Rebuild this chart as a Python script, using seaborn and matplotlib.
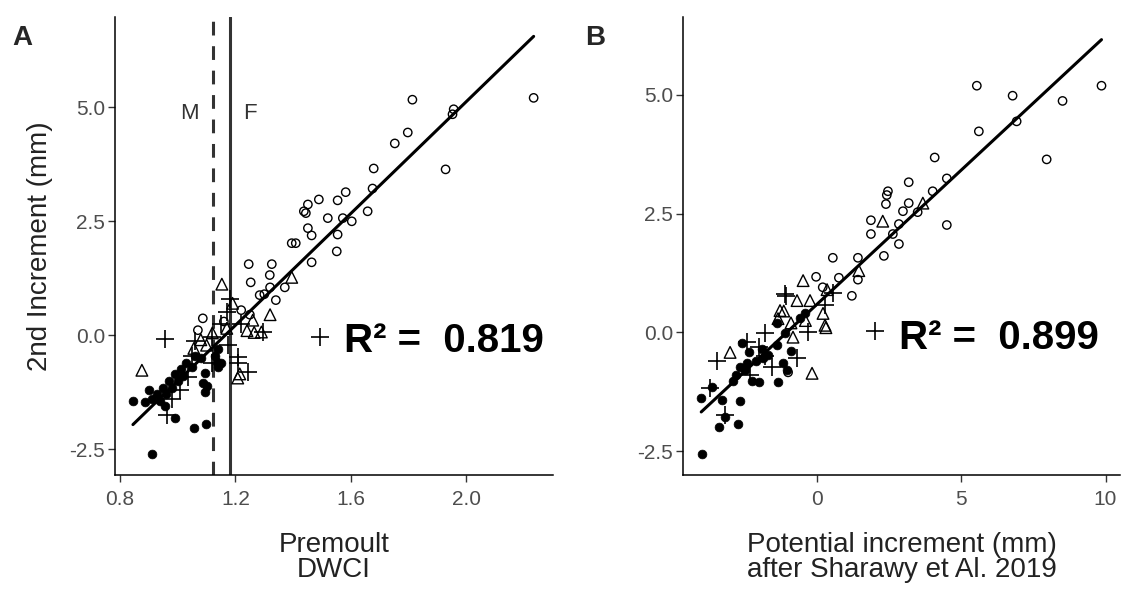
import numpy as np
import pandas as pd
import matplotlib
matplotlib.use("Agg")
import matplotlib.pyplot as plt
import seaborn as sns

# ---------------- data ----------------
# Panel A : Premoult DWCI vs 2nd increment
A_fill_x = [0.911, 0.845, 0.900, 0.887, 0.990, 1.056, 1.098, 1.094, 1.087, 1.136, 1.140,
            0.93, 0.94, 0.95, 0.96, 0.97, 0.98, 0.99, 1.00, 1.01, 1.02, 1.03, 1.05, 1.06,
            0.955, 1.08, 1.13, 1.15, 1.14, 1.103, 1.094, 0.912]
A_fill_y = [-2.61, -1.45, -1.21, -1.47, -1.82, -2.04, -1.95, -0.83, -1.05, -0.59, -0.70,
            -1.30, -1.45, -1.15, -1.30, -1.00, -1.15, -0.85, -1.00, -0.75, -0.90, -0.60, -0.70, -0.45,
            -1.55, -0.50, -0.45, -0.60, -0.30, -1.12, -1.25, -1.40]
A_open_x = [1.813, 2.233, 1.956, 1.952, 1.797, 1.752, 1.928, 1.679, 1.675, 1.582, 1.554, 1.489,
            1.451, 1.437, 1.444, 1.658, 1.520, 1.572, 1.603, 1.451, 1.464, 1.554, 1.395, 1.409,
            1.551, 1.246, 1.326, 1.464, 1.319, 1.253, 1.371, 1.340, 1.284, 1.087, 1.070,
            1.16, 1.22, 1.25, 1.30, 1.32]
A_open_y = [5.17, 5.21, 4.96, 4.85, 4.45, 4.21, 3.64, 3.66, 3.22, 3.14, 2.96, 2.98,
            2.87, 2.72, 2.68, 2.72, 2.57, 2.57, 2.50, 2.35, 2.19, 2.21, 2.02, 2.02,
            1.84, 1.56, 1.56, 1.60, 1.32, 1.16, 1.05, 0.77, 0.88, 0.37, 0.11,
            0.30, 0.55, 0.45, 0.90, 1.05]
A_tri_x = [0.876, 1.153, 1.208, 1.056, 1.100, 1.395, 1.290, 1.260, 1.190, 1.240, 1.265,
           1.170, 1.120, 1.215, 1.080, 1.320]
A_tri_y = [-0.77, 1.12, -0.94, -0.29, -0.22, 1.27, 0.07, 0.33, 0.70, 0.10, 0.06,
           0.15, 0.05, -0.85, -0.10, 0.45]
A_plus_x = [0.956, 1.035, 1.008, 0.980, 0.963, 1.243, 1.208, 1.174, 1.295, 1.492, 1.180,
            1.170, 1.210, 1.120, 1.060, 1.150, 1.220, 1.050, 1.120]
A_plus_y = [-0.09, -0.92, -1.21, -1.40, -1.75, -0.81, -0.61, -0.22, 0.07, -0.04, 0.79,
            0.50, -0.48, -0.05, -0.12, 0.25, 0.25, -0.45, -0.60]

# Panel B : potential increment vs 2nd increment
B_fill_x = [-3.98, -3.39, -2.73, -2.66, -3.29, -3.18, -4.01, -3.63, -2.91, -2.25, -2.00,
            -1.35, -2.60, -2.35, -2.66, -2.50, -2.42, -1.87, -1.70, -1.38, -1.18, -1.04,
            -1.11, -0.59, -1.40, -2.10, -2.80, -1.90, -0.90, -0.40]
B_fill_y = [-2.55, -1.99, -1.92, -1.44, -1.42, -1.78, -1.38, -1.15, -1.03, -1.03, -1.05,
            -1.05, -0.23, -0.42, -0.73, -0.80, -0.65, -0.54, -0.48, -0.27, -0.65, -0.79,
            -0.02, 0.31, 0.20, -0.60, -0.90, -0.35, -0.40, 0.40]
B_open_x = [5.54, 6.78, 8.51, 6.92, 5.61, 7.96, 4.08, 4.50, 3.18, 2.46, 2.42, 4.01, 2.39,
            3.18, 2.98, 3.49, 1.87, 2.84, 4.50, 1.87, 2.63, 2.84, 2.32, 0.55, 1.42, 1.42,
            -0.03, 0.76, 1.21, 9.86, -1.00, 0.20]
B_open_y = [5.19, 4.98, 4.87, 4.44, 4.23, 3.64, 3.68, 3.24, 3.16, 2.97, 2.89, 2.97, 2.70,
            2.72, 2.55, 2.53, 2.36, 2.28, 2.26, 2.07, 2.07, 1.86, 1.61, 1.57, 1.57, 1.11,
            1.17, 1.15, 0.77, 5.19, -0.84, 0.95]
B_tri_x = [-0.48, 0.35, -0.69, -0.24, 0.21, 0.31, -1.28, -1.35, -0.83, -3.01, -0.17,
           0.28, -0.40, -0.90, 1.45, 2.28, 3.67, -1.15]
B_tri_y = [1.09, 0.90, 0.67, 0.67, 0.40, 0.10, 0.46, 0.29, -0.10, -0.42, -0.86,
           0.15, 0.25, 0.20, 1.30, 2.34, 2.72, 0.45]
B_plus_x = [-3.46, 2.00, -1.80, -1.07, -0.69, -1.56, -2.32, -3.70, -3.18, -2.42, 0.55,
            0.28, -1.10, -1.80, -0.30, -2.00]
B_plus_y = [-0.61, 0.02, -0.02, 0.77, -0.54, -0.73, -0.90, -1.17, -1.74, -0.21, 0.82,
            0.57, 0.80, -0.50, 0.00, -0.30]

r2_labels = ["0.819", "0.899"]
male_dwci = 1.122
female_dwci = 1.18

# ---------------- styling ----------------
sns.set_theme(style="white")
plt.rcParams["font.family"] = ["Liberation Sans", "DejaVu Sans"]

fig = plt.figure(figsize=(11.29, 5.89), dpi=100)
axA = fig.add_axes([0.1019, 0.1935, 0.3879, 0.7780])
axB = fig.add_axes([0.6050, 0.1935, 0.3870, 0.7780])


def frame(x_f, y_f, x_o, y_o, x_t, y_t, x_p, y_p):
    parts = []
    for gx, gy, g in [(x_f, y_f, "fill"), (x_o, y_o, "open"), (x_t, y_t, "tri"), (x_p, y_p, "plus")]:
        parts.append(pd.DataFrame({"x": gx, "y": gy, "group": g}))
    return pd.concat(parts, ignore_index=True)


dfA = frame(A_fill_x, A_fill_y, A_open_x, A_open_y, A_tri_x, A_tri_y, A_plus_x, A_plus_y)
dfB = frame(B_fill_x, B_fill_y, B_open_x, B_open_y, B_tri_x, B_tri_y, B_plus_x, B_plus_y)

styles = {
    "open": dict(marker="o", s=36, facecolor="none", edgecolor="black", linewidth=1.0, color="black"),
    "tri": dict(marker="^", s=70, facecolor="none", edgecolor="black", linewidth=1.0, color="black"),
    "plus": dict(marker="+", s=150, color="black", linewidth=1.2),
    "fill": dict(marker="o", s=40, color="black", edgecolor="black", linewidth=0.5),
}


def draw(ax, df):
    for g in ["open", "tri", "plus", "fill"]:
        sub = df[df["group"] == g]
        sns.scatterplot(data=sub, x="x", y="y", ax=ax, legend=False, zorder=3, **styles[g])
    sns.regplot(data=df, x="x", y="y", ax=ax, scatter=False, ci=None,
                line_kws=dict(color="black", linewidth=2.2, zorder=4))
    for side in ["top", "right"]:
        ax.spines[side].set_visible(False)
    for side in ["left", "bottom"]:
        ax.spines[side].set_color("black")
        ax.spines[side].set_linewidth(1.1)
    ax.tick_params(axis="both", which="both", length=5, width=1.0, color="#333333",
                   labelsize=15, labelcolor="#4d4d4d", bottom=True, left=True)
    ax.tick_params(axis="y", pad=2)
    ax.tick_params(axis="x", pad=6)
    ax.set_yticks([-2.5, 0.0, 2.5, 5.0])
    ax.set_yticklabels(["-2.5", "0.0", "2.5", "5.0"])


draw(axA, dfA)
draw(axB, dfB)

# Panel A
axA.axvline(male_dwci, color="#333333", linewidth=2.2, linestyle=(0, (4.5, 3.5)), zorder=2)
axA.axvline(female_dwci, color="#333333", linewidth=2.2, zorder=2)
axA.set_xlim(0.783, 2.30)
axA.set_ylim(-3.07, 6.99)
axA.set_xticks([0.8, 1.2, 1.6, 2.0])
axA.set_xticklabels(["0.8", "1.2", "1.6", "2.0"])
axA.text(1.042, 4.87, "M", ha="center", va="center", fontsize=16, color="#333333")
axA.text(1.25, 4.87, "F", ha="center", va="center", fontsize=16, color="#333333")
axA.text(1.575, -0.12, "R² =  " + r2_labels[0], ha="left", va="center", fontsize=29,
         fontweight="bold", color="black")
axA.set_xlabel("Premoult\nDWCI", fontsize=20, color="#222222", labelpad=16, linespacing=0.95)
axA.set_ylabel("2nd Increment (mm)", fontsize=20, color="#222222", labelpad=12)

# Panel B
axB.set_xlim(-4.64, 10.5)
axB.set_ylim(-3.0, 6.64)
axB.set_xticks([0, 5, 10])
axB.set_xticklabels(["0", "5", "10"])
axB.text(2.85, -0.12, "R² =  " + r2_labels[1], ha="left", va="center", fontsize=29,
         fontweight="bold", color="black")
axB.set_xlabel("Potential increment (mm)\nafter Sharawy et Al. 2019", fontsize=20,
               color="#222222", labelpad=16, linespacing=0.95)
axB.set_ylabel("")

fig.text(22 / 1129, 1 - 38 / 589, "A", fontsize=20, fontweight="bold", ha="center", va="center")
fig.text(595 / 1129, 1 - 38 / 589, "B", fontsize=20, fontweight="bold", ha="center", va="center")

fig.savefig("out.png", dpi=100, facecolor="white")
